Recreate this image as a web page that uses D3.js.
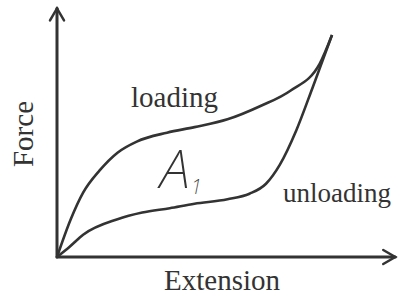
<!DOCTYPE html>
<html>
<head>
<meta charset="utf-8">
<script src="https://cdn.jsdelivr.net/npm/d3@7"></script>
<style>
  html, body { margin: 0; padding: 0; background: #fff; }
  svg { display: block; }
  text { fill: #333; font-family: "Liberation Serif", "Times New Roman", serif; }
</style>
</head>
<body>
<div id="chart"></div>
<script>
// extension / force as % of the peak point
const loading = [
  [0, 0], [5, 17], [9.5, 29], [15.5, 39], [22, 47], [29, 52],
  [40, 56], [50, 58.5], [62, 62], [74, 68], [85, 75], [95.5, 87], [100, 100]
];
const unloading = [
  [0, 0], [4.5, 4.5], [9.5, 10], [22, 17], [31, 20], [41, 22],
  [50, 24], [62, 26], [70, 28.5], [76, 33], [81, 41.5], [87, 57], [93, 76.5], [100, 100]
];
const axisMax = { x: 123, y: 112 };
const labels = { x: 'Extension', y: 'Force', up: 'loading', down: 'unloading', area: 'A' };

const width = 403, height = 296;
const ink = '#333';

const svg = d3.select('#chart').append('svg')
  .attr('width', width)
  .attr('height', height);

const x = d3.scaleLinear().domain([0, 100]).range([57, 332]);
const y = d3.scaleLinear().domain([0, 100]).range([257, 35]);

const line = d3.line()
  .x(d => x(d[0]))
  .y(d => y(d[1]))
  .curve(d3.curveMonotoneX);

// axes with open arrow heads
const axes = svg.append('g')
  .attr('stroke', ink)
  .attr('stroke-width', 3)
  .attr('fill', 'none')
  .attr('stroke-linecap', 'round');

axes.append('line')
  .attr('x1', x(0)).attr('y1', y(0))
  .attr('x2', x(axisMax.x)).attr('y2', y(0));
axes.append('line')
  .attr('x1', x(0)).attr('y1', y(0))
  .attr('x2', x(0)).attr('y2', y(axisMax.y));

const ah = 12, aw = 7;
axes.append('path')
  .attr('stroke-width', 2.5)
  .attr('d', `M${x(axisMax.x) - ah},${y(0) - aw}L${x(axisMax.x)},${y(0)}L${x(axisMax.x) - ah},${y(0) + aw}`);
axes.append('path')
  .attr('stroke-width', 2.5)
  .attr('d', `M${x(0) - aw},${y(axisMax.y) + ah}L${x(0)},${y(axisMax.y)}L${x(0) + aw},${y(axisMax.y) + ah}`);

// curves
svg.selectAll('.curve')
  .data([loading, unloading])
  .join('path')
  .attr('class', 'curve')
  .attr('d', line)
  .attr('fill', 'none')
  .attr('stroke', ink)
  .attr('stroke-width', 2.6)
  .attr('stroke-linejoin', 'round');

// labels
svg.append('text')
  .attr('x', 222).attr('y', 290)
  .attr('text-anchor', 'middle')
  .attr('font-size', 29)
  .text(labels.x);

svg.append('text')
  .attr('transform', 'translate(33,134) rotate(-90)')
  .attr('text-anchor', 'middle')
  .attr('font-size', 29)
  .text(labels.y);

svg.append('text')
  .attr('x', 131).attr('y', 107)
  .attr('font-size', 29)
  .text(labels.up);

svg.append('text')
  .attr('x', 283).attr('y', 202)
  .attr('font-size', 27)
  .text(labels.down);

const a = svg.append('text')
  .attr('x', 160).attr('y', 188)
  .style('font-family', '"Noto Sans", sans-serif')
  .style('font-style', 'italic')
  .style('font-weight', 200)
  .attr('font-size', 54);
a.append('tspan').text(labels.area);
a.append('tspan')
  .attr('dx', 1).attr('dy', 6)
  .attr('font-size', 20)
  .text('1');
</script>
</body>
</html>
